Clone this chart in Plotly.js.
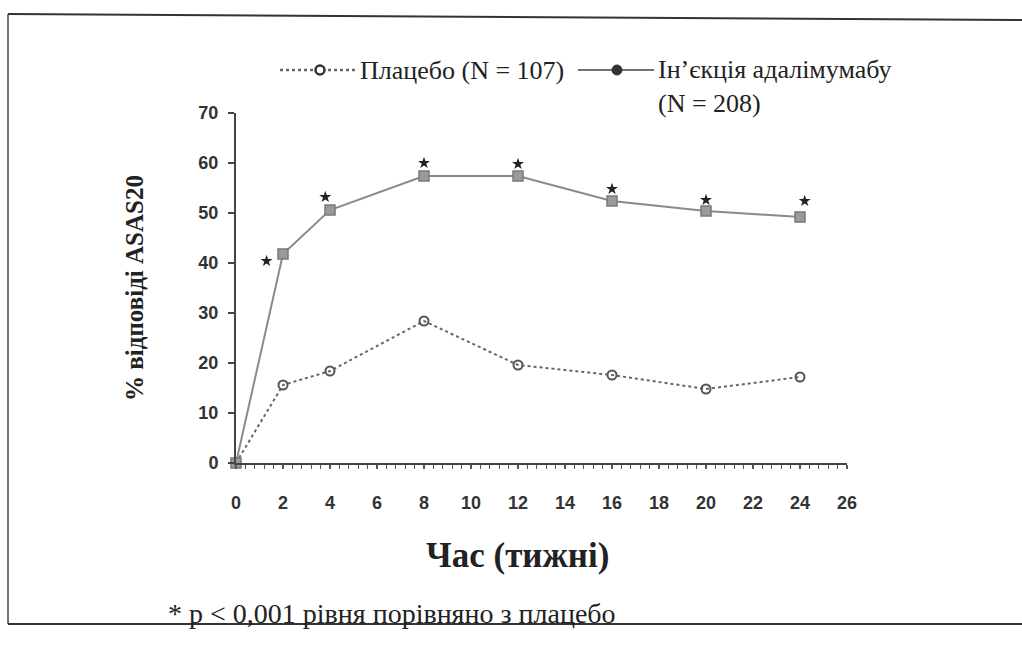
<!DOCTYPE html>
<html>
<head>
<meta charset="utf-8">
<script src="https://cdn.plot.ly/plotly-3.0.1.min.js"></script>
<style>
html,body{margin:0;padding:0;background:#fff;}
#chart{width:1022px;height:647px;}
</style>
</head>
<body>
<div id="chart"></div>
<script>
// Data
const weeks = [0, 2, 4, 8, 12, 16, 20, 24];
const placebo = [0, 15.6, 18.4, 28.4, 19.6, 17.6, 14.8, 17.2];
const adalimumab = [0, 41.8, 50.6, 57.4, 57.4, 52.4, 50.4, 49.2];
const starX = [1.3, 3.8, 8, 12, 16, 20, 24.2];
const starY = [40.4, 53.2, 60, 59.8, 54.8, 52.6, 52.4];
const yTicks = [0, 10, 20, 30, 40, 50, 60, 70];
const xLabelStep = 2;      // labelled every 2 weeks
const xTickStep = 0.4;     // small tick marks along the x axis
const xMax = 26;
const legendPlacebo = 'Плацебо (N = 107)';
const legendAdalimumab = 'Ін’єкція адалімумабу<br>(N = 208)';
const yTitle = '% відповіді ASAS20';
const xTitle = 'Час (тижні)';
const footnote = '* p < 0,001 рівня порівняно з плацебо';

// x tick marks (every 0.4) with labels only on multiples of 2
const xTickVals = [], xTickText = [];
const perLabel = Math.round(xLabelStep / xTickStep);
for (let i = 0; i * xTickStep <= xMax + 1e-9; i++) {
  const v = Math.round(i * xTickStep * 10) / 10;
  xTickVals.push(v);
  xTickText.push(i % perLabel === 0 ? String(v) : '');
}

const serif = '"Liberation Serif", "Times New Roman", serif';
const sans = '"Liberation Sans", Arial, sans-serif';

// plot area geometry (pixels)
const M = {l: 236, r: 175, t: 113, b: 184};
const W = 1022, H = 647;
const PW = W - M.l - M.r, PH = H - M.t - M.b;
const px = v => (v - M.l) / PW;
const py = v => (H - M.b - v) / PH;

const traces = [
  {
    x: weeks, y: placebo, type: 'scatter', mode: 'lines+markers', showlegend: false,
    line: {color: '#666', width: 2, dash: 'dot'},
    marker: {symbol: 'circle-open', size: 9, color: '#555', line: {width: 2, color: '#555'}},
    cliponaxis: false
  },
  {
    x: weeks, y: adalimumab, type: 'scatter', mode: 'lines+markers', showlegend: false,
    line: {color: '#8a8a8a', width: 2},
    marker: {symbol: 'square', size: 10, color: '#9a9a9a', line: {width: 1.5, color: '#7a7a7a'}},
    cliponaxis: false
  },
  {
    x: starX, y: starY, type: 'scatter', mode: 'markers', showlegend: false,
    marker: {symbol: 'star', size: 9, color: '#222'},
    cliponaxis: false
  }
];

const layout = {
  width: W, height: H,
  margin: M,
  paper_bgcolor: '#fff', plot_bgcolor: '#fff',
  showlegend: false,
  xaxis: {
    range: [0, xMax], tickmode: 'array', tickvals: xTickVals, ticktext: xTickText,
    showgrid: false, zeroline: false, showline: true, linecolor: '#444', linewidth: 2,
    ticks: 'outside', ticklen: 4, tickcolor: '#555', tickwidth: 1.2,
    ticklabelstandoff: 18,
    tickfont: {family: sans, size: 18, color: '#333', weight: 'bold'}
  },
  yaxis: {
    range: [0, 70], tickvals: yTicks,
    showgrid: false, zeroline: false, showline: true, linecolor: '#444', linewidth: 2,
    ticks: 'outside', ticklen: 6, tickcolor: '#444', tickwidth: 1.5,
    ticklabelstandoff: 6,
    tickfont: {family: sans, size: 18, color: '#333', weight: 'bold'},
    title: {text: yTitle, font: {family: serif, size: 25, color: '#222', weight: 'bold'}, standoff: 48}
  },
  annotations: [
    {
      text: xTitle, xref: 'paper', yref: 'paper', x: px(517), y: py(555),
      xanchor: 'center', yanchor: 'middle', showarrow: false,
      font: {family: serif, size: 35, color: '#222', weight: 'bold'}
    },
    {
      text: footnote, xref: 'paper', yref: 'paper', x: px(166), y: py(613),
      xanchor: 'left', yanchor: 'middle', showarrow: false,
      font: {family: serif, size: 28, color: '#222'}
    },
    {
      text: legendPlacebo, xref: 'paper', yref: 'paper', x: px(358), y: py(71),
      xanchor: 'left', yanchor: 'middle', showarrow: false,
      font: {family: serif, size: 26, color: '#222'}
    },
    {
      text: legendAdalimumab, xref: 'paper', yref: 'paper', x: px(656), y: py(53),
      xanchor: 'left', yanchor: 'top', align: 'left', showarrow: false,
      font: {family: serif, size: 26, color: '#222'}
    }
  ],
  shapes: [
    // scanned page frame
    {type: 'line', xref: 'paper', yref: 'paper', x0: px(8), y0: py(14), x1: px(1022), y1: py(20), line: {color: '#333', width: 2}},
    {type: 'line', xref: 'paper', yref: 'paper', x0: px(8), y0: py(14), x1: px(8), y1: py(624), line: {color: '#444', width: 1.5}},
    {type: 'line', xref: 'paper', yref: 'paper', x0: px(8), y0: py(624), x1: px(1022), y1: py(624), line: {color: '#333', width: 2}},
    // legend samples
    {type: 'line', xref: 'paper', yref: 'paper', x0: px(280), y0: py(70), x1: px(355), y1: py(70), line: {color: '#666', width: 2.5, dash: 'dot'}},
    {type: 'circle', xref: 'paper', yref: 'paper', xsizemode: 'pixel', ysizemode: 'pixel',
     xanchor: px(320), yanchor: py(70), x0: -4.5, x1: 4.5, y0: -4.5, y1: 4.5,
     fillcolor: '#fff', line: {color: '#333', width: 2.5}},
    {type: 'line', xref: 'paper', yref: 'paper', x0: px(578), y0: py(70), x1: px(654), y1: py(70), line: {color: '#444', width: 1.5}},
    {type: 'circle', xref: 'paper', yref: 'paper', xsizemode: 'pixel', ysizemode: 'pixel',
     xanchor: px(617), yanchor: py(70), x0: -5, x1: 5, y0: -5, y1: 5,
     fillcolor: '#333', line: {color: '#333', width: 1}}
  ]
};

Plotly.newPlot('chart', traces, layout, {displayModeBar: false, staticPlot: true});
</script>
</body>
</html>
